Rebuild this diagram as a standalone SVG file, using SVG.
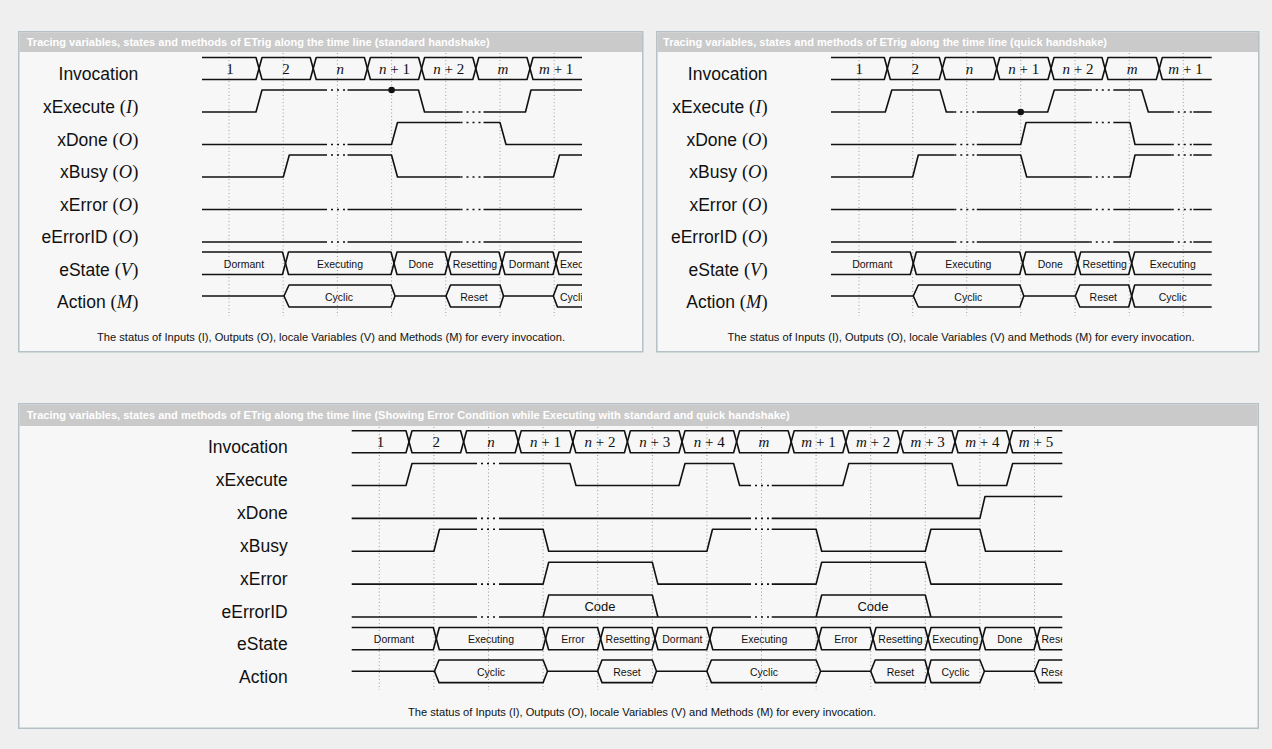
<svg xmlns="http://www.w3.org/2000/svg" width="1272" height="749" viewBox="0 0 1272 749">
<defs>
<style>
.page{fill:#efefef}
.panel{fill:#f7f7f7;stroke:#b4c2c6;stroke-width:1.5}
.hdr{fill:#cacaca}
.ht{font-family:"Liberation Sans",Arial,sans-serif;font-weight:bold;font-size:10px;fill:#ffffff}
.lbl{font-family:"Liberation Sans",Arial,sans-serif;font-size:17.5px;fill:#111;text-anchor:end}
.m{font-family:"Liberation Serif","Times New Roman",serif;font-size:18.5px}
.i{font-style:italic}
.inv{font-family:"Liberation Serif","Times New Roman",serif;font-size:15px;fill:#111;text-anchor:middle}
.cell{font-family:"Liberation Sans",Arial,sans-serif;font-size:10.5px;fill:#111;text-anchor:middle}
.cs{text-anchor:start}
.code{font-family:"Liberation Sans",Arial,sans-serif;font-size:13px;fill:#111;text-anchor:middle}
.cap{font-family:"Liberation Sans",Arial,sans-serif;font-size:10.3px;fill:#111;text-anchor:middle}
.grid{stroke:#9c9c9c;stroke-width:1;stroke-dasharray:1 2.5;fill:none}
.sig{fill:none;stroke:#111;stroke-width:1.6;stroke-linejoin:round}
.gap{fill:none;stroke:#111;stroke-width:1.6;stroke-dasharray:2 4}
</style>
<clipPath id="clipTL"><rect x="190" y="240" width="392" height="80"/></clipPath>
<clipPath id="clipTR"><rect x="190" y="240" width="392.4" height="80"/></clipPath>
<clipPath id="clipB"><rect x="340" y="620" width="722.3" height="70"/></clipPath>
</defs>
<rect class="page" x="0" y="0" width="1272" height="749"/>

<!-- ================= TOP LEFT PANEL ================= -->
<g id="panel-standard">
<rect class="panel" x="18.75" y="31.75" width="624" height="320"/>
<rect class="hdr" x="19.5" y="32.5" width="622.5" height="19.5"/>
<text class="ht" x="26.7" y="46" textLength="463" lengthAdjust="spacingAndGlyphs">Tracing variables, states and methods of ETrig along the time line (standard handshake)</text>

<g id="tl-labels">
<text class="lbl" x="138.3" y="80">Invocation</text>
<text class="lbl" x="138.3" y="113">xExecute <tspan class="m">(<tspan class="i">I</tspan>)</tspan></text>
<text class="lbl" x="138.3" y="145.5">xDone <tspan class="m">(<tspan class="i">O</tspan>)</tspan></text>
<text class="lbl" x="138.3" y="178">xBusy <tspan class="m">(<tspan class="i">O</tspan>)</tspan></text>
<text class="lbl" x="138.3" y="210.5">xError <tspan class="m">(<tspan class="i">O</tspan>)</tspan></text>
<text class="lbl" x="138.3" y="243">eErrorID <tspan class="m">(<tspan class="i">O</tspan>)</tspan></text>
<text class="lbl" x="138.3" y="275.5">eState <tspan class="m">(<tspan class="i">V</tspan>)</tspan></text>
<text class="lbl" x="138.3" y="308">Action <tspan class="m">(<tspan class="i">M</tspan>)</tspan></text>
</g>

<g id="tl-grid">
<path class="grid" d="M229,53V316 M283.2,53V316 M337.4,53V316 M391.6,53V316 M445.8,53V316 M500,53V316 M554.2,53V316"/>
</g>

<g id="tl-connectors">
<g id="tl-invocation">
<path class="sig" d="M202,57.5 H256 L262,79.5 H310.2 L316.2,57.5 H364.4 L370.4,79.5 H418.6 L424.6,57.5 H472.8 L478.8,79.5 H527 L533,57.5 H582"/>
<path class="sig" d="M202,79.5 H256 L262,57.5 H310.2 L316.2,79.5 H364.4 L370.4,57.5 H418.6 L424.6,79.5 H472.8 L478.8,57.5 H527 L533,79.5 H582"/>
<text class="inv" x="230" y="73.5">1</text>
<text class="inv" x="286.1" y="73.5">2</text>
<text class="inv" x="340.3" y="73.5"><tspan class="i">n</tspan></text>
<text class="inv" x="394.5" y="73.5"><tspan class="i">n</tspan> + 1</text>
<text class="inv" x="448.7" y="73.5"><tspan class="i">n</tspan> + 2</text>
<text class="inv" x="502.9" y="73.5"><tspan class="i">m</tspan></text>
<text class="inv" x="556.2" y="73.5"><tspan class="i">m</tspan> + 1</text>
</g>
<g id="tl-xexecute">
<path class="sig" d="M202,112 H256 L262,90 H325 M347.5,90 H418.5 L424.5,112 H460.5 M483.5,112 H525.5 L531,90 H582"/>
<path class="gap" d="M325,90 H347.5 M460.5,112 H483.5"/>
<circle cx="391.6" cy="90" r="3.3" fill="#111"/>
</g>
<g id="tl-xdone">
<path class="sig" d="M202,144.5 H325 M347.5,144.5 H391.5 L397.5,122.5 H460.5 M483.5,122.5 H500 L506,144.5 H582"/>
<path class="gap" d="M325,144.5 H347.5 M460.5,122.5 H483.5"/>
</g>
<g id="tl-xbusy">
<path class="sig" d="M202,177 H283.3 L289.3,155 H325 M347.5,155 H391.5 L397.5,177 H460.5 M483.5,177 H553.5 L559.5,155 H582"/>
<path class="gap" d="M325,155 H347.5 M460.5,177 H483.5"/>
</g>
<g id="tl-xerror">
<path class="sig" d="M202,209.5 H325 M347.5,209.5 H460.5 M483.5,209.5 H582"/>
<path class="gap" d="M325,209.5 H347.5 M460.5,209.5 H483.5"/>
</g>
<g id="tl-eerrorid">
<path class="sig" d="M202,242 H325 M347.5,242 H460.5 M483.5,242 H582"/>
<path class="gap" d="M325,242 H347.5 M460.5,242 H483.5"/>
</g>
<g id="tl-estate">
<path class="sig" d="M202,252 H282.5 L288.5,274.5 H391 L397,252 H445 L451,274.5 H499 L505,252 H553 L559,274.5 H582"/>
<path class="sig" d="M202,274.5 H282.5 L288.5,252 H391 L397,274.5 H445 L451,252 H499 L505,274.5 H553 L559,252 H582"/>
<text class="cell" x="244" y="267.5">Dormant</text>
<text class="cell" x="340" y="267.5">Executing</text>
<text class="cell" x="421" y="267.5">Done</text>
<text class="cell" x="475" y="267.5">Resetting</text>
<text class="cell" x="529" y="267.5">Dormant</text>
<text class="cell cs" x="560" y="267.5" clip-path="url(#clipTL)">Executing</text>
</g>
<g id="tl-action">
<path class="sig" d="M202,296 H284 L289,285 H391 L395,296 H446 L450.5,285 H500 L503.5,296 H553.3 L557.5,285 H582"/>
<path class="sig" d="M284,296 L289,307 H391 L395,296 M446,296 L450.5,307 H500 L503.5,296 M553.3,296 L557.5,307 H582"/>
<text class="cell" x="339" y="300.5">Cyclic</text>
<text class="cell" x="474" y="300.5">Reset</text>
<text class="cell cs" x="560" y="300.5" clip-path="url(#clipTL)">Cyclic</text>
</g>
</g>
<text class="cap" x="331" y="341" textLength="468" lengthAdjust="spacingAndGlyphs">The status of Inputs (I), Outputs (O), locale Variables (V) and Methods (M) for every invocation.</text>
</g>

<!-- ================= TOP RIGHT PANEL ================= -->
<g id="panel-quick">
<rect class="panel" x="656.75" y="31.75" width="602" height="320"/>
<rect class="hdr" x="657.5" y="32.5" width="600.5" height="19.5"/>
<text class="ht" x="663" y="46" textLength="444" lengthAdjust="spacingAndGlyphs">Tracing variables, states and methods of ETrig along the time line (quick handshake)</text>
<text class="cap" x="961" y="341" textLength="467" lengthAdjust="spacingAndGlyphs">The status of Inputs (I), Outputs (O), locale Variables (V) and Methods (M) for every invocation.</text>
<g transform="translate(629.3,0)">
<g id="tr-labels">
<text class="lbl" x="138.3" y="80">Invocation</text>
<text class="lbl" x="138.3" y="113">xExecute <tspan class="m">(<tspan class="i">I</tspan>)</tspan></text>
<text class="lbl" x="138.3" y="145.5">xDone <tspan class="m">(<tspan class="i">O</tspan>)</tspan></text>
<text class="lbl" x="138.3" y="178">xBusy <tspan class="m">(<tspan class="i">O</tspan>)</tspan></text>
<text class="lbl" x="138.3" y="210.5">xError <tspan class="m">(<tspan class="i">O</tspan>)</tspan></text>
<text class="lbl" x="138.3" y="243">eErrorID <tspan class="m">(<tspan class="i">O</tspan>)</tspan></text>
<text class="lbl" x="138.3" y="275.5">eState <tspan class="m">(<tspan class="i">V</tspan>)</tspan></text>
<text class="lbl" x="138.3" y="308">Action <tspan class="m">(<tspan class="i">M</tspan>)</tspan></text>
</g>
<g id="tr-grid">
<path class="grid" d="M229.7,53V316 M283.4,53V316 M337.4,53V316 M391.4,53V316 M445.7,53V316 M500,53V316 M554,53V316"/>
</g>
<g id="tr-connectors">
<g id="tr-invocation">
<path class="sig" d="M201.7,57.5 H255 L261,79.5 H310 L316,57.5 H364.4 L370.4,79.5 H418.7 L424.7,57.5 H472.7 L478.7,79.5 H527 L533,57.5 H582.4"/>
<path class="sig" d="M201.7,79.5 H255 L261,57.5 H310 L316,79.5 H364.4 L370.4,57.5 H418.7 L424.7,79.5 H472.7 L478.7,57.5 H527 L533,79.5 H582.4"/>
<text class="inv" x="230" y="73.5">1</text>
<text class="inv" x="286" y="73.5">2</text>
<text class="inv" x="340.3" y="73.5"><tspan class="i">n</tspan></text>
<text class="inv" x="394.5" y="73.5"><tspan class="i">n</tspan> + 1</text>
<text class="inv" x="448.7" y="73.5"><tspan class="i">n</tspan> + 2</text>
<text class="inv" x="502.9" y="73.5"><tspan class="i">m</tspan></text>
<text class="inv" x="556.2" y="73.5"><tspan class="i">m</tspan> + 1</text>
</g>
<g id="tr-xexecute">
<path class="sig" d="M201.7,112 H256 L262.5,90 H310.7 L317,112 H325 M347.5,112 H418.4 L425,90 H460.5 M484,90 H512.4 L519,112 H542.5 M564,112 H582.4"/>
<path class="gap" d="M325,112 H347.5 M460.5,90 H484 M542.5,112 H564"/>
<circle cx="391.4" cy="112" r="3.3" fill="#111"/>
</g>
<g id="tr-xdone">
<path class="sig" d="M201.7,144.5 H325 M347.5,144.5 H391.4 L396.7,122.5 H460.5 M484,122.5 H500.7 L505.7,144.5 H542.5 M564,144.5 H582.4"/>
<path class="gap" d="M325,144.5 H347.5 M460.5,122.5 H484 M542.5,144.5 H564"/>
</g>
<g id="tr-xbusy">
<path class="sig" d="M201.7,177 H283.4 L289,155 H325 M347.5,155 H391.4 L397.4,177 H460.5 M484,177 H500.7 L505.7,155 H542.5 M564,155 H582.4"/>
<path class="gap" d="M325,155 H347.5 M460.5,177 H484 M542.5,155 H564"/>
</g>
<g id="tr-xerror">
<path class="sig" d="M201.7,209.5 H325 M347.5,209.5 H460.5 M484,209.5 H542.5 M564,209.5 H582.4"/>
<path class="gap" d="M325,209.5 H347.5 M460.5,209.5 H484 M542.5,209.5 H564"/>
</g>
<g id="tr-eerrorid">
<path class="sig" d="M201.7,242 H325 M347.5,242 H460.5 M484,242 H542.5 M564,242 H582.4"/>
<path class="gap" d="M325,242 H347.5 M460.5,242 H484 M542.5,242 H564"/>
</g>
<g id="tr-estate">
<path class="sig" d="M201.7,252 H281 L287,274.5 H390.4 L396.4,252 H445.4 L451.4,274.5 H499.4 L505.4,252 H582.4"/>
<path class="sig" d="M201.7,274.5 H281 L287,252 H390.4 L396.4,274.5 H445.4 L451.4,252 H499.4 L505.4,274.5 H582.4"/>
<text class="cell" x="243" y="267.5">Dormant</text>
<text class="cell" x="339" y="267.5">Executing</text>
<text class="cell" x="421" y="267.5">Done</text>
<text class="cell" x="475.4" y="267.5">Resetting</text>
<text class="cell" x="543.4" y="267.5">Executing</text>
</g>
<g id="tr-action">
<path class="sig" d="M201.7,296 H284 L289,285 H390.5 L394.5,296 H446 L450.5,285 H499.4 L505.4,307 H582.4"/>
<path class="sig" d="M284,296 L289,307 H390.5 L394.5,296 M446,296 L450.5,307 H499.4 L505.4,285 H582.4"/>
<text class="cell" x="339" y="300.5">Cyclic</text>
<text class="cell" x="474" y="300.5">Reset</text>
<text class="cell" x="543.4" y="300.5">Cyclic</text>
</g>
</g>
</g>
</g>

<!-- ================= BOTTOM PANEL ================= -->
<g id="panel-error">
<rect class="panel" x="18.75" y="403.75" width="1239.5" height="324.5"/>
<rect class="hdr" x="19.5" y="404.5" width="1238" height="21.5"/>
<text class="ht" x="26.7" y="419" textLength="763" lengthAdjust="spacingAndGlyphs">Tracing variables, states and methods of ETrig along the time line (Showing Error Condition while Executing with standard and quick handshake)</text>

<g id="b-labels">
<text class="lbl" x="287.7" y="453.2">Invocation</text>
<text class="lbl" x="287.7" y="486">xExecute</text>
<text class="lbl" x="287.7" y="519">xDone</text>
<text class="lbl" x="287.7" y="551.8">xBusy</text>
<text class="lbl" x="287.7" y="584.6">xError</text>
<text class="lbl" x="287.7" y="617.5">eErrorID</text>
<text class="lbl" x="287.7" y="650.3">eState</text>
<text class="lbl" x="287.7" y="683.1">Action</text>
</g>

<g id="b-grid">
<path class="grid" d="M379.3,427V690 M433.9,427V690 M488.5,427V690 M543.1,427V690 M597.7,427V690 M652.3,427V690 M706.9,427V690 M761.5,427V690 M816.1,427V690 M870.7,427V690 M925.3,427V690 M979.9,427V690 M1034.5,427V690"/>
</g>

<g id="b-connectors">
<g id="b-invocation">
<path class="sig" d="M351.7,430.7 H406 L412,452.7 H460.6 L466.6,430.7 H515.2 L521.2,452.7 H569.8 L575.8,430.7 H624.4 L630.4,452.7 H679 L685,430.7 H733.6 L739.6,452.7 H788.2 L794.2,430.7 H842.8 L848.8,452.7 H897.4 L903.4,430.7 H952 L958,452.7 H1006.6 L1012.6,430.7 H1062.3"/>
<path class="sig" d="M351.7,452.7 H406 L412,430.7 H460.6 L466.6,452.7 H515.2 L521.2,430.7 H569.8 L575.8,452.7 H624.4 L630.4,430.7 H679 L685,452.7 H733.6 L739.6,430.7 H788.2 L794.2,452.7 H842.8 L848.8,430.7 H897.4 L903.4,452.7 H952 L958,430.7 H1006.6 L1012.6,452.7 H1062.3"/>
<text class="inv" x="380.4" y="446.7">1</text>
<text class="inv" x="436.3" y="446.7">2</text>
<text class="inv" x="490.9" y="446.7"><tspan class="i">n</tspan></text>
<text class="inv" x="545.5" y="446.7"><tspan class="i">n</tspan> + 1</text>
<text class="inv" x="600.1" y="446.7"><tspan class="i">n</tspan> + 2</text>
<text class="inv" x="654.7" y="446.7"><tspan class="i">n</tspan> + 3</text>
<text class="inv" x="709.3" y="446.7"><tspan class="i">n</tspan> + 4</text>
<text class="inv" x="763.9" y="446.7"><tspan class="i">m</tspan></text>
<text class="inv" x="818.5" y="446.7"><tspan class="i">m</tspan> + 1</text>
<text class="inv" x="873.1" y="446.7"><tspan class="i">m</tspan> + 2</text>
<text class="inv" x="927.7" y="446.7"><tspan class="i">m</tspan> + 3</text>
<text class="inv" x="982.3" y="446.7"><tspan class="i">m</tspan> + 4</text>
<text class="inv" x="1036" y="446.7"><tspan class="i">m</tspan> + 5</text>
</g>
<g id="b-xexecute">
<path class="sig" d="M351.7,485.5 H406 L412,463.5 H475 M500,463.5 H570 L576,485.5 H679 L685,463.5 H733.6 L739.6,485.5 H749 M771.7,485.5 H842.8 L848.8,463.5 H952 L958,485.5 H1006.6 L1012.6,463.5 H1062.3"/>
<path class="gap" d="M475,463.5 H500 M749,485.5 H771.7"/>
</g>
<g id="b-xdone">
<path class="sig" d="M351.7,518.4 H475 M500,518.4 H749 M771.7,518.4 H979.9 L985,496.5 H1062.3"/>
<path class="gap" d="M475,518.4 H500 M749,518.4 H771.7"/>
</g>
<g id="b-xbusy">
<path class="sig" d="M351.7,551.2 H433.9 L439.5,529.3 H475 M500,529.3 H543.1 L548.7,551.2 H706.9 L712.5,529.3 H749 M771.7,529.3 H816.1 L821.7,551.2 H925.3 L930.9,529.3 H979.9 L985.5,551.2 H1062.3"/>
<path class="gap" d="M475,529.3 H500 M749,529.3 H771.7"/>
</g>
<g id="b-xerror">
<path class="sig" d="M351.7,584.1 H475 M500,584.1 H543.1 L548.7,562.3 H652.3 L657.9,584.1 H749 M771.7,584.1 H816.1 L821.7,562.3 H925.3 L930.9,584.1 H1062.3"/>
<path class="gap" d="M475,584.1 H500 M749,584.1 H771.7"/>
</g>
<g id="b-eerrorid">
<path class="sig" d="M351.7,617 H475 M500,617 H749 M771.7,617 H1062.3 M543.1,617 L548.7,595 H652.3 L657.9,617 M816.1,617 L821.7,595 H925.3 L930.9,617"/>
<path class="gap" d="M475,617 H500 M749,617 H771.7"/>
<text class="code" x="600" y="611">Code</text>
<text class="code" x="873" y="611">Code</text>
</g>
<g id="b-estate">
<path class="sig" d="M351.7,627.5 H433.3 L439.3,649.8 H542.6 L548.6,627.5 H597.6 L603.6,649.8 H652 L658,627.5 H706.8 L712.8,649.8 H815.6 L821.6,627.5 H870 L876,649.8 H925 L931,627.5 H979.4 L985.4,649.8 H1034 L1040,627.5 H1062.3"/>
<path class="sig" d="M351.7,649.8 H433.3 L439.3,627.5 H542.6 L548.6,649.8 H597.6 L603.6,627.5 H652 L658,649.8 H706.8 L712.8,627.5 H815.6 L821.6,649.8 H870 L876,627.5 H925 L931,649.8 H979.4 L985.4,627.5 H1034 L1040,649.8 H1062.3"/>
<text class="cell" x="394" y="643">Dormant</text>
<text class="cell" x="491" y="643">Executing</text>
<text class="cell" x="573" y="643">Error</text>
<text class="cell" x="627.8" y="643">Resetting</text>
<text class="cell" x="682.4" y="643">Dormant</text>
<text class="cell" x="764.2" y="643">Executing</text>
<text class="cell" x="845.8" y="643">Error</text>
<text class="cell" x="900.5" y="643">Resetting</text>
<text class="cell" x="955.2" y="643">Executing</text>
<text class="cell" x="1009.7" y="643">Done</text>
<text class="cell cs" x="1041.5" y="643" clip-path="url(#clipB)">Resetting</text>
</g>
<g id="b-action">
<path class="sig" d="M351.7,671.3 H434.5 L439,660 H543.1 L547.5,671.3 H597.7 L602,660 H652.3 L656.5,671.3 H706.9 L711.4,660 H816.1 L820.6,671.3 H870.7 L875.2,660 H925 L931,682.6 H979.9 L984.4,671.3 H1034.5 L1039,660 H1062.3"/>
<path class="sig" d="M434.5,671.3 L439,682.6 H543.1 L547.5,671.3 M597.7,671.3 L602,682.6 H652.3 L656.5,671.3 M706.9,671.3 L711.4,682.6 H816.1 L820.6,671.3 M870.7,671.3 L875.2,682.6 H925 L931,660 H979.9 L984.4,671.3 M1034.5,671.3 L1039,682.6 H1062.3"/>
<text class="cell" x="491" y="676">Cyclic</text>
<text class="cell" x="627" y="676">Reset</text>
<text class="cell" x="764" y="676">Cyclic</text>
<text class="cell" x="900.5" y="676">Reset</text>
<text class="cell" x="955.5" y="676">Cyclic</text>
<text class="cell cs" x="1041" y="676" clip-path="url(#clipB)">Reset</text>
</g>
</g>
<text class="cap" x="642" y="716" textLength="468" lengthAdjust="spacingAndGlyphs">The status of Inputs (I), Outputs (O), locale Variables (V) and Methods (M) for every invocation.</text>
</g>
</svg>
